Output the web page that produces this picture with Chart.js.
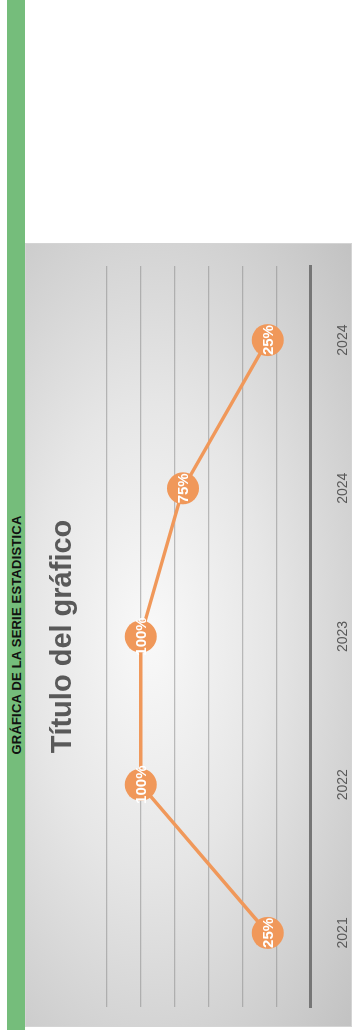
<!DOCTYPE html>
<html lang="es">
<head>
<meta charset="utf-8">
<title>Gráfica de la serie estadística</title>
<script src="https://cdn.jsdelivr.net/npm/chart.js@4/dist/chart.umd.min.js"></script>
<style>
  body { margin: 0; background: #fff; width: 355px; height: 1030px; overflow: hidden; position: relative; }
  #strip { position: absolute; left: 7px; top: 0; width: 18px; height: 1030px; background: #75bd7b; }
  #strip span {
    position: absolute; left: 9px; top: 635px; white-space: nowrap;
    transform: translate(-50%, -50%) rotate(-90deg);
    font: bold 13px "Liberation Sans", Arial, sans-serif; letter-spacing: 0.2px; color: #111;
  }
  #box {
    position: absolute; left: 25px; top: 243px; width: 327px; height: 784px;
    box-sizing: border-box; border: 1px solid #d4d4d4;
    background: radial-gradient(ellipse farthest-corner at 38% 50%, #f9f9f9 0%, #e6e6e6 42%, #c2c2c2 100%);
    overflow: hidden;
  }
  /* the chart is laid out wide and turned a quarter to the left */
  #rot {
    position: absolute; left: 0; top: 0; width: 784px; height: 327px;
    transform-origin: 0 0; transform: translateY(784px) rotate(-90deg);
  }
</style>
</head>
<body>
<div id="strip"><span>GRÁFICA DE LA SERIE ESTADISTICA</span></div>
<div id="box">
  <div id="rot"><canvas id="grafica" width="784" height="327"></canvas></div>
</div>
<script>
// serie estadística
var categorias = ['2021', '2022', '2023', '2024', '2024'];
var porcentajes = [0.25, 1.00, 1.00, 0.75, 0.25];
var ejeMin = 0;
var ejeMax = 1.2;
var ejePaso = 0.2;

var naranja = '#f0985a';

// texto del porcentaje dentro de cada punto
var etiquetas = {
  id: 'etiquetas',
  afterDatasetsDraw: function(chart) {
    var ctx = chart.ctx;
    var meta = chart.getDatasetMeta(0);
    ctx.save();
    ctx.fillStyle = '#ffffff';
    ctx.font = 'bold 15px "Liberation Sans", Arial, sans-serif';
    ctx.textAlign = 'center';
    ctx.textBaseline = 'middle';
    meta.data.forEach(function(p, i) {
      ctx.fillText(Math.round(porcentajes[i] * 100) + '%', p.x, p.y + 1);
    });
    ctx.restore();
  }
};

new Chart(document.getElementById('grafica'), {
  type: 'line',
  data: {
    labels: categorias,
    datasets: [{
      data: porcentajes,
      borderColor: naranja,
      borderWidth: 3.5,
      backgroundColor: naranja,
      pointBackgroundColor: naranja,
      pointBorderWidth: 0,
      pointRadius: 16,
      tension: 0,
      clip: false
    }]
  },
  options: {
    responsive: false,
    animation: false,
    devicePixelRatio: 1,
    layout: { padding: { left: 21, right: 22, top: 0, bottom: 0 } },
    plugins: {
      legend: { display: false },
      tooltip: { enabled: false },
      title: {
        display: true,
        text: 'Título del gráfico',
        color: '#595959',
        font: { family: '"Liberation Sans", Arial, sans-serif', size: 29, weight: 'bold' },
        padding: { top: 20, bottom: 26 }
      }
    },
    scales: {
      x: {
        offset: true,
        grid: { display: false },
        border: { display: true, color: '#767676', width: 3 },
        ticks: {
          color: '#595959',
          padding: 17,
          maxRotation: 0,
          font: { family: '"Liberation Sans", Arial, sans-serif', size: 14 }
        },
        afterFit: function(scale) { scale.height = 43; }
      },
      y: {
        min: ejeMin,
        max: ejeMax,
        ticks: { display: false, stepSize: ejePaso },
        grid: { color: 'rgba(140,140,140,0.55)', lineWidth: 1.2, drawTicks: false },
        border: { display: false }
      }
    }
  },
  plugins: [etiquetas]
});
</script>
</body>
</html>
